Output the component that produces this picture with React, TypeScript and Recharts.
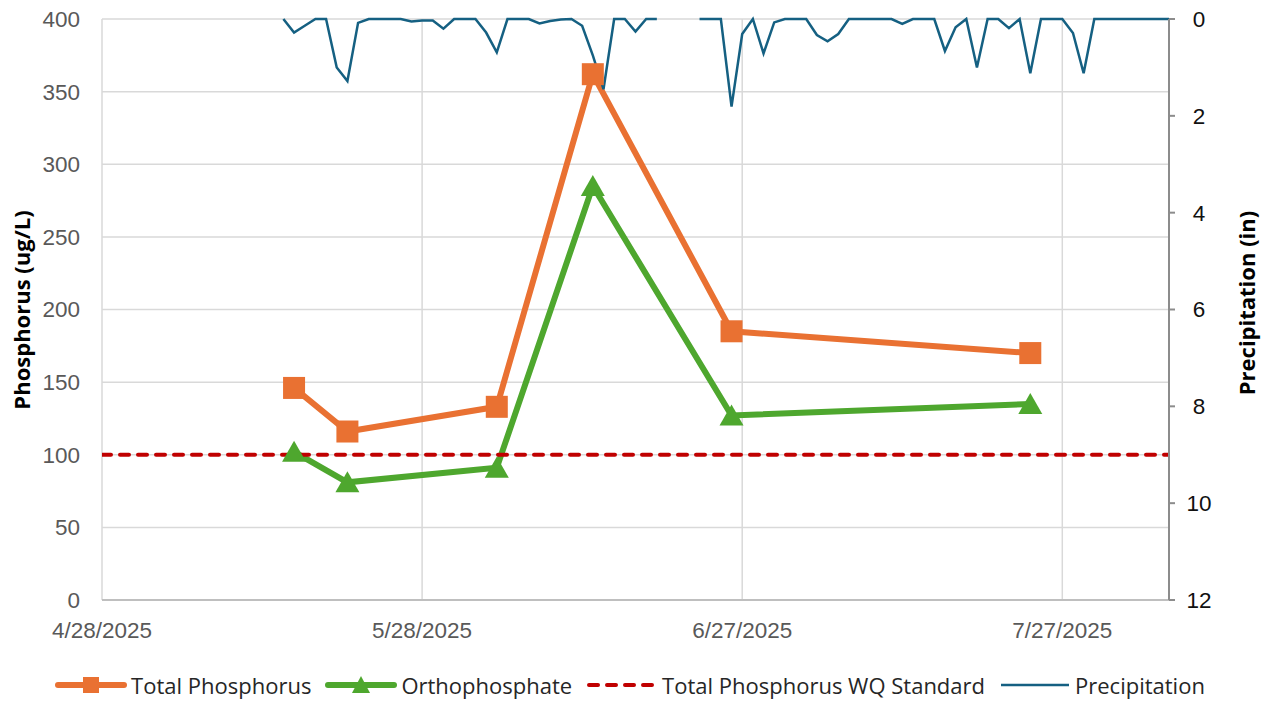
import { LineChart, Line, XAxis, YAxis, CartesianGrid, Legend } from "recharts"

// axis setup
const baseDate = "4/28/2025"
const xTickDays = [0, 30, 60, 90]
const phosTicks = [0, 50, 100, 150, 200, 250, 300, 350, 400]
const precipTicks = [0, 2, 4, 6, 8, 10, 12]

// lab samples
const sampleDates = ["5/16/2025", "5/21/2025", "6/4/2025", "6/13/2025", "6/26/2025", "7/24/2025"]
const totalPhosphorus = [146, 116, 133, 362, 185, 170]
const orthophosphate = [102, 81, 91, 285, 127, 135]
const wqStandard = 100

// daily precipitation (in), one value per day from precipStart
const precipStart = "5/15/2025"
const precipitation = [
  0, 0.28, 0.14, 0, 0, 1.0, 1.28, 0.08, 0, 0, 0, 0, 0.05, 0.03, 0.03, 0.2,
  0, 0, 0, 0.28, 0.69, 0, 0, 0, 0.09, 0.04, 0.01, 0, 0.14, 0.75, 1.45, 0,
  0, 0.26, 0, 0, null, null, null, 0, 0, 0, 1.81, 0.31, 0, 0.71, 0.07, 0,
  0, 0, 0.33, 0.46, 0.31, 0, 0, 0, 0, 0, 0.1, 0, 0, 0, 0.66, 0.17,
  0, 1.0, 0, 0, 0.19, 0, 1.12, 0, 0, 0, 0.29, 1.12, 0, 0, 0, 0,
  0, 0, 0, 0,
]

const ORANGE = "#E97132"
const GREEN = "#4EA72E"
const RED = "#C00000"
const BLUE = "#156082"

const tickFont = "'Liberation Sans', Arial, sans-serif"
const titleFont = "'Open Sans', 'Noto Sans', sans-serif"

const DAY = 86400000
const parseDate = (s: string) => {
  const [m, d, y] = s.split("/").map(Number)
  return Date.UTC(y, m - 1, d)
}
const base = parseDate(baseDate)
const toDay = (s: string) => Math.round((parseDate(s) - base) / DAY)
const fmtDay = (n: number) => {
  const dt = new Date(base + n * DAY)
  return `${dt.getUTCMonth() + 1}/${dt.getUTCDate()}/${dt.getUTCFullYear()}`
}

const tpData = sampleDates.map((d, i) => ({ day: toDay(d), value: totalPhosphorus[i] }))
const opData = sampleDates.map((d, i) => ({ day: toDay(d), value: orthophosphate[i] }))
const wqData = [
  { day: 0, value: wqStandard },
  { day: 100, value: wqStandard },
]
const precipData = precipitation.map((v, i) => ({ day: toDay(precipStart) + i, value: v }))

const SquareDot = (props: any) => {
  const { cx, cy, index } = props
  if (cx == null || cy == null) return <g key={index} />
  return <rect key={index} x={cx - 11} y={cy - 11} width={22} height={22} fill={ORANGE} />
}

const TriangleDot = (props: any) => {
  const { cx, cy, index } = props
  if (cx == null || cy == null) return <g key={index} />
  return (
    <polygon
      key={index}
      points={`${cx},${cy - 11} ${cx + 12},${cy + 10} ${cx - 12},${cy + 10}`}
      fill={GREEN}
    />
  )
}

const legendItems = [
  { name: "Total Phosphorus", kind: "square" },
  { name: "Orthophosphate", kind: "triangle" },
  { name: "Total Phosphorus WQ Standard", kind: "dash" },
  { name: "Precipitation", kind: "line" },
]

function LegendIcon({ kind }: { kind: string }) {
  return (
    <svg width={72} height={22} style={{ display: "block" }}>
      {kind === "square" && (
        <>
          <line x1={3} y1={11} x2={69} y2={11} stroke={ORANGE} strokeWidth={6} strokeLinecap="round" />
          <rect x={28} y={3} width={16} height={16} fill={ORANGE} />
        </>
      )}
      {kind === "triangle" && (
        <>
          <line x1={3} y1={11} x2={69} y2={11} stroke={GREEN} strokeWidth={6} strokeLinecap="round" />
          <polygon points="36,2 45,19 27,19" fill={GREEN} />
        </>
      )}
      {kind === "dash" && (
        <line x1={3} y1={11} x2={69} y2={11} stroke={RED} strokeWidth={4} strokeDasharray="9 9" strokeLinecap="round" />
      )}
      {kind === "line" && <line x1={2} y1={11} x2={70} y2={11} stroke={BLUE} strokeWidth={2.5} />}
    </svg>
  )
}

function ChartLegend() {
  return (
    <div
      style={{
        display: "flex",
        justifyContent: "center",
        alignItems: "center",
        height: 34,
        fontFamily: titleFont,
        fontSize: 22,
        color: "#262626",
        paddingLeft: 8,
      }}
    >
      {legendItems.map((it) => (
        <div key={it.name} style={{ display: "flex", alignItems: "center", marginRight: 14 }}>
          <LegendIcon kind={it.kind} />
          <span style={{ marginLeft: 4, whiteSpace: "nowrap" }}>{it.name}</span>
        </div>
      ))}
    </div>
  )
}

const leftTitle = () => (
  <text
    x={21}
    y={310}
    transform="rotate(-90 21 310)"
    textAnchor="middle"
    dominantBaseline="central"
    fontFamily={titleFont}
    fontWeight={700}
    fontSize={22}
    fill="#000"
  >
    Phosphorus (ug/L)
  </text>
)

const rightTitle = () => (
  <text
    x={1246}
    y={303}
    transform="rotate(-90 1246 303)"
    textAnchor="middle"
    dominantBaseline="central"
    fontFamily={titleFont}
    fontWeight={700}
    fontSize={22}
    fill="#000"
  >
    Precipitation (in)
  </text>
)

export default function App() {
  return (
    <div style={{ position: "absolute", left: 0, top: 0, width: 1266, height: 702, background: "#fff" }}>
      <LineChart width={1266} height={702} margin={{ top: 19, right: 0, left: 0, bottom: 0 }}>
        <CartesianGrid yAxisId="left" stroke="#d9d9d9" strokeWidth={1.5} />
        <XAxis
          type="number"
          dataKey="day"
          domain={[0, 100]}
          ticks={xTickDays}
          tickFormatter={fmtDay}
          allowDataOverflow
          height={68}
          tickLine={false}
          axisLine={{ stroke: "#bfbfbf", strokeWidth: 2 }}
          tickMargin={16}
          tick={{ fontFamily: tickFont, fontSize: 22.5, fill: "#595959" }}
        />
        <YAxis
          yAxisId="left"
          domain={[0, 400]}
          ticks={phosTicks}
          width={102}
          axisLine={false}
          tickLine={false}
          tickMargin={16}
          tick={{ fontFamily: tickFont, fontSize: 22.5, fill: "#595959" }}
          label={{ content: leftTitle }}
        />
        <YAxis
          yAxisId="right"
          orientation="right"
          domain={[0, 12]}
          ticks={precipTicks}
          reversed
          width={97}
          axisLine={{ stroke: "#8c8c8c", strokeWidth: 2 }}
          tickLine={{ stroke: "#8c8c8c", strokeWidth: 2 }}
          tickSize={6}
          tickMargin={24}
          tick={{ fontFamily: tickFont, fontSize: 22.5, fill: "#111", textAnchor: "middle" }}
          label={{ content: rightTitle }}
        />
        <Legend verticalAlign="bottom" height={34} content={() => <ChartLegend />} />
        <Line
          yAxisId="left"
          data={tpData}
          dataKey="value"
          name="Total Phosphorus"
          stroke={ORANGE}
          strokeWidth={6}
          dot={SquareDot}
          activeDot={false}
          isAnimationActive={false}
        />
        <Line
          yAxisId="left"
          data={opData}
          dataKey="value"
          name="Orthophosphate"
          stroke={GREEN}
          strokeWidth={6}
          dot={TriangleDot}
          activeDot={false}
          isAnimationActive={false}
        />
        <Line
          yAxisId="left"
          data={wqData}
          dataKey="value"
          name="Total Phosphorus WQ Standard"
          stroke={RED}
          strokeWidth={4}
          strokeDasharray="9 9"
          strokeLinecap="round"
          dot={false}
          activeDot={false}
          isAnimationActive={false}
        />
        <Line
          yAxisId="right"
          data={precipData}
          dataKey="value"
          name="Precipitation"
          stroke={BLUE}
          strokeWidth={2.5}
          dot={false}
          activeDot={false}
          isAnimationActive={false}
        />
      </LineChart>
    </div>
  )
}
